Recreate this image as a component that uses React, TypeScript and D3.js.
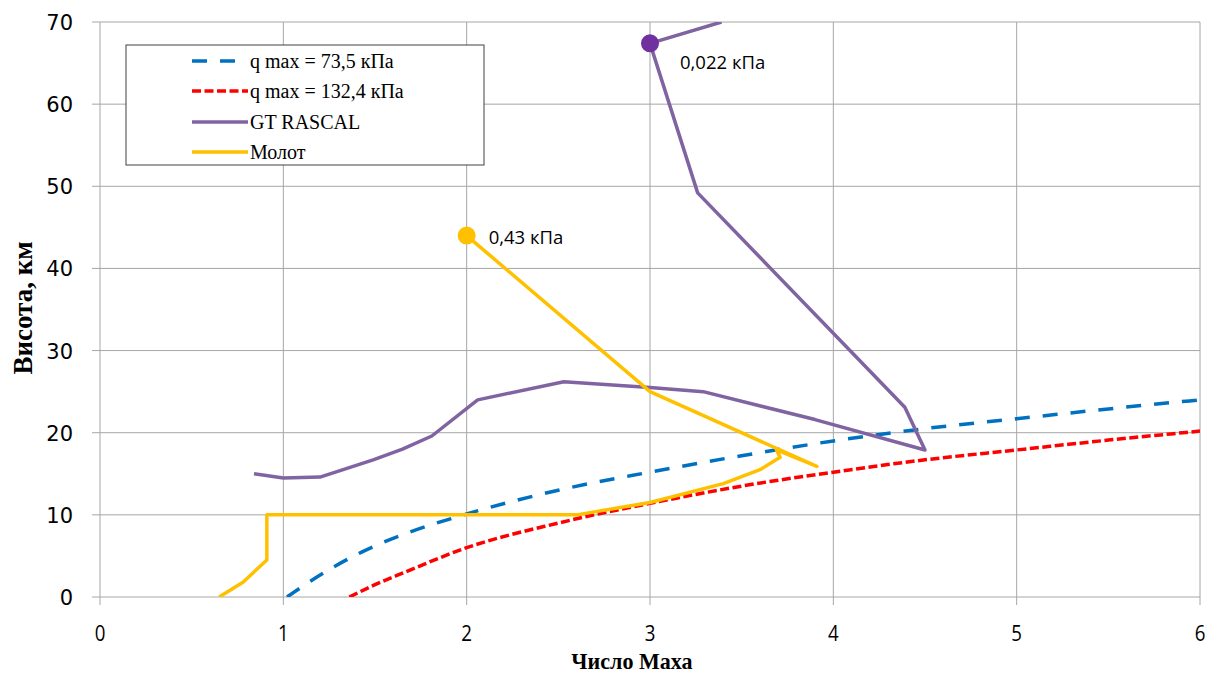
import React from "react";
import * as d3 from "d3";

const xTicks = [0, 1, 2, 3, 4, 5, 6];
const yTicks = [0, 10, 20, 30, 40, 50, 60, 70];

const seriesNames = ["q max = 73,5 кПа", "q max = 132,4 кПа", "GT RASCAL", "Молот"];

const qLowMach = [1.02, 1.16, 1.43, 1.69, 2.0, 2.5, 3.0, 3.5, 4.0, 4.5, 5.0, 5.5, 6.0];
const qLowAlt = [0, 2.1, 5.5, 7.9, 10.1, 13.0, 15.2, 17.2, 19.0, 20.5, 21.7, 22.9, 24.0];

const qHighMach = [1.36, 1.5, 1.65, 2.0, 2.5, 3.0, 3.5, 4.0, 4.5, 5.0, 5.5, 6.0];
const qHighAlt = [0, 1.5, 2.9, 6.0, 9.0, 11.4, 13.5, 15.2, 16.7, 17.9, 19.1, 20.2];

const rascalMach = [0.84, 1.0, 1.2, 1.49, 1.65, 1.81, 2.06, 2.53, 3.0, 3.29, 3.9, 4.5, 4.39, 3.26, 3.0, 3.39];
const rascalAlt = [15.0, 14.5, 14.6, 16.7, 18.0, 19.6, 24.0, 26.2, 25.5, 25.0, 21.6, 17.9, 23.1, 49.2, 67.4, 70.0];

const molotMach = [2.0, 3.0, 3.91, 3.69, 3.71, 3.6, 3.4, 3.0, 2.6, 0.91, 0.91, 0.78, 0.65];
const molotAlt = [44.0, 25.0, 15.9, 17.9, 17.0, 15.5, 13.8, 11.5, 10.0, 10.0, 4.5, 1.8, 0];

const markerMach = [3.0, 2.0];
const markerAlt = [67.4, 44.0];
const markerLabels = ["0,022 кПа", "0,43 кПа"];

const BLUE = "#0070C0";
const RED = "#FF0000";
const PURPLE_LINE = "#8064A2";
const PURPLE_MARK = "#7030A0";
const YELLOW = "#FFC000";

export default function App() {
  const x = d3.scaleLinear().domain([0, 6]).range([100, 1200]);
  const y = d3.scaleLinear().domain([0, 70]).range([597, 22]);
  const line = d3
    .line<[number, number]>()
    .x((d) => x(d[0]))
    .y((d) => y(d[1]));
  const smooth = d3
    .line<[number, number]>()
    .x((d) => x(d[0]))
    .y((d) => y(d[1]))
    .curve(d3.curveMonotoneX);
  const zip = (a: number[], b: number[]) => a.map((v, i) => [v, b[i]] as [number, number]);

  const grid = "#A6A6A6";
  const legendX = 126;
  const legendY = 45;
  const rowY = [61, 91, 122, 152];
  const legendStyles = [
    { color: BLUE, dash: "15,13" },
    { color: RED, dash: "9,3.5" },
    { color: PURPLE_LINE, dash: "" },
    { color: YELLOW, dash: "" },
  ];

  return (
    <svg
      width={1208}
      height={675}
      style={{ position: "absolute", left: 0, top: 0, background: "#fff" }}
    >
      <defs>
        <clipPath id="plot">
          <rect x={100} y={22} width={1100} height={575} />
        </clipPath>
      </defs>
      {/* gridlines */}
      {yTicks.map((t) => (
        <line key={"gy" + t} x1={92} x2={1200} y1={y(t)} y2={y(t)} stroke={grid} strokeWidth={1} />
      ))}
      {xTicks.map((t) => (
        <line key={"gx" + t} x1={x(t)} x2={x(t)} y1={22} y2={605} stroke={grid} strokeWidth={1} />
      ))}
      {/* tick labels */}
      {yTicks.map((t) => (
        <text
          key={"ty" + t}
          x={73}
          y={y(t) + 8}
          textAnchor="end"
          fontFamily="'DejaVu Sans', Verdana, sans-serif"
          fontSize={21}
          fill="#000"
        >
          {t}
        </text>
      ))}
      {xTicks.map((t) => (
        <text
          key={"tx" + t}
          transform={`translate(${x(t)},641) scale(0.85,1)`}
          textAnchor="middle"
          fontFamily="'Open Sans', sans-serif"
          fontSize={22}
          fill="#000"
        >
          {t}
        </text>
      ))}
      {/* axis titles */}
      <text
        transform="translate(632,669) scale(0.92,1)"
        textAnchor="middle"
        fontFamily="'Liberation Serif', 'Times New Roman', serif"
        fontWeight="bold"
        fontSize={24}
      >
        Число Маха
      </text>
      <text
        transform="translate(32,308) rotate(-90)"
        textAnchor="middle"
        fontFamily="'Liberation Serif', 'Times New Roman', serif"
        fontWeight="bold"
        fontSize={27}
      >
        Висота, км
      </text>
      {/* series */}
      <g clipPath="url(#plot)" fill="none" strokeLinejoin="round">
        <path d={smooth(zip(qLowMach, qLowAlt)) || ""} stroke={BLUE} strokeWidth={3.5} strokeDasharray="15,13" />
        <path d={smooth(zip(qHighMach, qHighAlt)) || ""} stroke={RED} strokeWidth={3.5} strokeDasharray="9,3.5" />
        <path d={line(zip(rascalMach, rascalAlt)) || ""} stroke={PURPLE_LINE} strokeWidth={3.5} />
        <path d={line(zip(molotMach, molotAlt)) || ""} stroke={YELLOW} strokeWidth={3.5} />
      </g>
      {/* markers */}
      {markerMach.map((m, i) => (
        <g key={"mk" + i}>
          <circle cx={x(m)} cy={y(markerAlt[i])} r={9} fill={i === 0 ? PURPLE_MARK : YELLOW} />
          <text
            x={x(m) + (i === 0 ? 30 : 22)}
            y={y(markerAlt[i]) + (i === 0 ? 26 : 8)}
            fontFamily="'Open Sans', 'Noto Sans', sans-serif"
            fontSize={18.5}
            fill="#000"
          >
            {markerLabels[i]}
          </text>
        </g>
      ))}
      {/* legend */}
      <rect x={legendX} y={legendY} width={358} height={120} fill="#fff" stroke="#404040" strokeWidth={1} />
      {seriesNames.map((n, i) => (
        <g key={"lg" + i}>
          <line
            x1={192}
            x2={248}
            y1={rowY[i]}
            y2={rowY[i]}
            stroke={legendStyles[i].color}
            strokeWidth={3.5}
            strokeDasharray={legendStyles[i].dash || undefined}
          />
          <text
            x={250}
            y={rowY[i] + 7}
            fontFamily="'Liberation Serif', 'Times New Roman', serif"
            fontSize={20}
            fill="#000"
          >
            {n}
          </text>
        </g>
      ))}
    </svg>
  );
}
